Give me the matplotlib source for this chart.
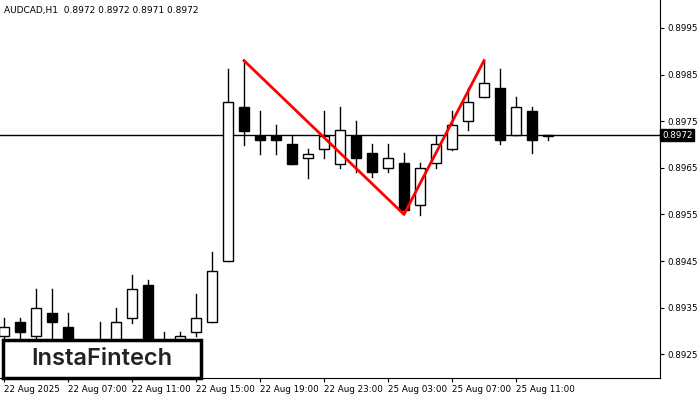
import matplotlib.pyplot as plt
from matplotlib.patches import Rectangle

# candles AUDCAD H1 (open, high, low, close)
opens = [0.89289, 0.89319, 0.89289, 0.89338, 0.89308, 0.8927, 0.8927, 0.8927, 0.89328, 0.89398,
         0.8927, 0.8927, 0.89298, 0.89319, 0.8945, 0.8978, 0.89718, 0.89718, 0.89701, 0.89671,
         0.8969, 0.89658, 0.89718, 0.89682, 0.8965, 0.8966, 0.8957, 0.8966, 0.8969, 0.8975,
         0.89802, 0.89821, 0.8972, 0.89772, 0.89718]
highs = [0.89328, 0.89328, 0.8939, 0.8939, 0.89338, 0.8928, 0.89319, 0.8935, 0.8942, 0.89409,
         0.89298, 0.89298, 0.89379, 0.8947, 0.89862, 0.89881, 0.89772, 0.89742, 0.89718, 0.8969,
         0.89772, 0.8978, 0.8975, 0.89701, 0.89701, 0.89682, 0.8966, 0.89718, 0.89772, 0.89821,
         0.8988, 0.89862, 0.89802, 0.8978, 0.89718]
lows = [0.8926, 0.8926, 0.8926, 0.8926, 0.8925, 0.8925, 0.8925, 0.8926, 0.89317, 0.8925,
        0.8926, 0.8926, 0.8929, 0.89319, 0.8945, 0.89699, 0.8968, 0.8968, 0.89658, 0.89628,
        0.89671, 0.8965, 0.89641, 0.8963, 0.89641, 0.8955, 0.89549, 0.8965, 0.89688, 0.89731,
        0.89802, 0.89701, 0.8972, 0.89682, 0.8971]
closes = [0.89308, 0.89298, 0.89349, 0.89319, 0.8926, 0.8928, 0.8928, 0.89319, 0.8939, 0.8926,
          0.8928, 0.89289, 0.89328, 0.89429, 0.89791, 0.89729, 0.8971, 0.8971, 0.89658, 0.8968,
          0.89718, 0.89731, 0.89671, 0.89641, 0.89671, 0.8956, 0.8965, 0.89701, 0.89742, 0.89791,
          0.89832, 0.8971, 0.8978, 0.8971, 0.89718]

pattern_idx = [15, 25, 30]
pattern_price = [0.8988, 0.8955, 0.8988]
last_price = 0.8972

xtick_idx = [0, 4, 8, 12, 16, 20, 24, 28, 32]
xtick_labels = ["22 Aug 2025", "22 Aug 07:00", "22 Aug 11:00", "22 Aug 15:00", "22 Aug 19:00",
                "22 Aug 23:00", "25 Aug 03:00", "25 Aug 07:00", "25 Aug 11:00"]
ytick_vals = [0.8925, 0.8935, 0.8945, 0.8955, 0.8965, 0.8975, 0.8985, 0.8995]

fig = plt.figure(figsize=(7, 4), dpi=100)
ax = fig.add_axes([0, 22 / 400, 660 / 700, 378 / 400])
ax.set_xlim(-0.25, 41)
ax.set_ylim(0.89199, 0.9001)

w = 0.62
for i, (o, h, l, c) in enumerate(zip(opens, highs, lows, closes)):
    ax.plot([i, i], [l, h], color="black", lw=1, zorder=2)
    face = "white" if c >= o else "black"
    ax.add_patch(Rectangle((i - w / 2, min(o, c)), w, max(abs(c - o), 0.00002),
                           facecolor=face, edgecolor="black", lw=1, zorder=3))

ax.axhline(last_price, color="black", lw=1, zorder=1)
ax.plot(pattern_idx, pattern_price, color="red", lw=2, zorder=4)

ax.yaxis.tick_right()
ax.set_yticks(ytick_vals)
ax.set_yticklabels([f"{v:.4f}" for v in ytick_vals], fontsize=6.3)
ax.set_xticks(xtick_idx)
ax.set_xticklabels(xtick_labels, fontsize=6.3, ha="left")
for lbl in ax.get_xticklabels():
    lbl.set_x(lbl.get_position()[0])
ax.tick_params(axis="x", length=3, pad=2)
ax.tick_params(axis="y", length=3, pad=2)
ax.spines["top"].set_visible(False)
ax.spines["left"].set_visible(False)

ax.text(1.003, last_price, "0.8972", transform=ax.get_yaxis_transform(), fontsize=6.3,
        color="white", va="center", ha="left",
        bbox=dict(boxstyle="square,pad=0.2", facecolor="black", edgecolor="black"))

fig.text(4 / 700, 1 - 10 / 400, "AUDCAD,H1  0.8972 0.8972 0.8971 0.8972", fontsize=6.5, va="center")

# logo box
fig.patches.append(Rectangle((3 / 700, 22 / 400), 198 / 700, 38 / 400, transform=fig.transFigure,
                             facecolor="white", edgecolor="black", lw=2.5, zorder=5))
fig.text(102 / 700, 41 / 400, "InstaFintech", fontsize=17, ha="center", va="center",
         color="#222222", family="Inter", weight="semibold", zorder=6)

plt.savefig("out.png", dpi=100)
